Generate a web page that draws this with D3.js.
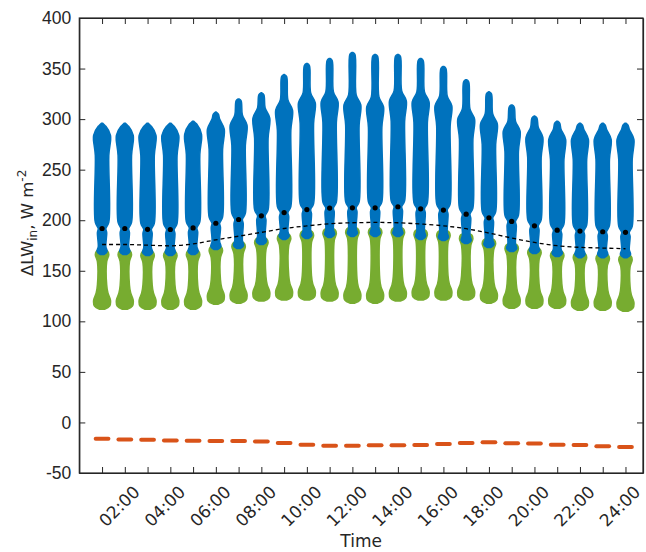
<!DOCTYPE html>
<html>
<head>
<meta charset="utf-8">
<script src="https://cdn.jsdelivr.net/npm/d3@7"></script>
<style>
  body { margin: 0; background: #fff; }
  svg { font-family: "DejaVu Sans", sans-serif; }
</style>
</head>
<body>
<div id="chart"></div>
<script>
// hourly values (hour 1 .. 24)
const hours = d3.range(1, 25);
const tickHours = d3.range(2, 25, 2);
const yTicks = d3.range(-50, 401, 50);

const blueMin   = [166, 166, 165, 165, 166, 171, 172, 176, 181, 182, 183, 184, 184, 184, 181, 180, 177, 173, 169, 167, 164, 163, 163, 163];
const blueMax   = [296, 296, 296, 296, 298, 307, 320, 326, 344, 355, 360, 366, 364, 364, 360, 352, 339, 327, 314, 303, 298, 296, 296, 296];
const blueBulge = [284, 284, 284, 284, 285, 290, 294, 301, 309, 316, 317, 314, 312, 318, 317, 313, 300, 295, 288, 282, 280, 280, 280, 280];
const greenMin  = [112, 112, 112, 112, 112, 117, 118, 120, 121, 121, 120, 118, 118, 120, 121, 121, 121, 118, 113, 113, 113, 111, 111, 110];
const greenMax  = [171, 171, 170, 170, 171, 175, 179, 183, 187, 190, 192, 193, 193, 193, 191, 190, 187, 182, 177, 173, 170, 168, 167, 166];
const meanVals  = [191.8, 191.8, 191, 190.8, 192.4, 197, 200.7, 204.3, 207.6, 210.5, 212, 212.3, 212.3, 213.3, 211.3, 210, 206, 202.4, 198.8, 194.5, 190.2, 189.3, 188.6, 188];
const fitVals   = [176, 176, 175.3, 174.7, 176.6, 180.6, 184.2, 188, 191.8, 194.4, 196.5, 197.5, 197.8, 197.5, 196.2, 194.5, 191.6, 187.3, 182.4, 178, 174.8, 173.2, 172.5, 171.8];
const diffVals  = [-16.2, -16.9, -17.2, -17.9, -18.2, -18.4, -18.4, -18.9, -20.3, -22, -23, -23, -22.6, -22.6, -22.3, -21.3, -20.3, -19.6, -20.6, -20.9, -22, -22.3, -23.6, -24.3];

const W = 646, H = 552;
const mLeft = 79.3, mRight = 643, mTop = 18, mBottom = 473;
const axisColor = '#262626';

const svg = d3.select('#chart').append('svg')
    .attr('width', W)
    .attr('height', H);

const x = d3.scaleLinear().domain([0, 24.77]).range([mLeft, mRight]);
const y = d3.scaleLinear().domain([-50, 400]).range([mBottom, mTop]);
// relative spread of the point cloud -> half width in hours
const spread = d3.scaleLinear().domain([0, 1]).range([0, 0.37]);

function blueProfile(i) {
    const lo = blueMin[i], hi = blueMax[i], b = blueBulge[i], m = meanVals[i];
    const s = Math.min(b + 10, hi - 3);
    return [
        [lo, 0.2], [lo + 3, 0.6], [lo + 8, 0.45], [m - 4, 0.55], [m, 0.45], [m + 6, 0.8],
        [b - 20, 0.8], [b, 1.0], [s, 0.45], [hi - 2, 0.3], [hi, 0.05]
    ];
}

function greenProfile(i) {
    const lo = greenMin[i], hi = greenMax[i];
    return [
        [lo, 0.3], [lo + 3, 0.9], [lo + 9, 1.0], [lo + 16, 0.7], [lo + 24, 0.55],
        [hi - 12, 0.55], [hi - 5, 0.8], [hi - 1.5, 0.65], [hi, 0.25]
    ];
}

function cloudArea(h) {
    return d3.area()
        .y(d => y(d[0]))
        .x0(d => x(h - spread(d[1])))
        .x1(d => x(h + spread(d[1])))
        .curve(d3.curveCatmullRom);
}

const plot = svg.append('g');

// green clouds underneath
plot.selectAll('path.green')
    .data(hours)
    .enter()
    .append('path')
    .attr('class', 'green')
    .attr('d', (h, i) => cloudArea(h)(greenProfile(i)))
    .attr('fill', '#77AC30')
    .attr('stroke', '#77AC30')
    .attr('stroke-width', 1.5)
    .attr('stroke-linejoin', 'round');

// blue clouds on top
plot.selectAll('path.blue')
    .data(hours)
    .enter()
    .append('path')
    .attr('class', 'blue')
    .attr('d', (h, i) => cloudArea(h)(blueProfile(i)))
    .attr('fill', '#0072BD')
    .attr('stroke', '#0072BD')
    .attr('stroke-width', 1.5)
    .attr('stroke-linejoin', 'round');

// dashed black curve
const fitLine = d3.line()
    .x((d, i) => x(hours[i]))
    .y(d => y(d))
    .curve(d3.curveMonotoneX);

plot.append('path')
    .attr('d', fitLine(fitVals))
    .attr('fill', 'none')
    .attr('stroke', '#000')
    .attr('stroke-width', 1.3)
    .attr('stroke-dasharray', '4,3');

// mean dots
plot.selectAll('circle.mean')
    .data(meanVals)
    .enter()
    .append('circle')
    .attr('class', 'mean')
    .attr('cx', (d, i) => x(hours[i]))
    .attr('cy', d => y(d))
    .attr('r', 2.6)
    .attr('fill', '#000');

// orange dashes, one per hour
plot.selectAll('line.diff')
    .data(diffVals)
    .enter()
    .append('line')
    .attr('class', 'diff')
    .attr('x1', (d, i) => x(hours[i] - 0.28))
    .attr('x2', (d, i) => x(hours[i] + 0.28))
    .attr('y1', d => y(d))
    .attr('y2', d => y(d))
    .attr('stroke', '#D95319')
    .attr('stroke-width', 4)
    .attr('stroke-linecap', 'round');

// axes (ticks point inward, box all round)
const yAxis = d3.axisLeft(y).tickValues(yTicks).tickFormat(d => String(d))
    .tickSizeInner(-6).tickSizeOuter(0).tickPadding(8);
const gy = svg.append('g').attr('transform', `translate(${mLeft},0)`).call(yAxis);
gy.selectAll('text').attr('font-size', 17.5).attr('fill', axisColor);

const gyr = svg.append('g').attr('transform', `translate(${mRight},0)`)
    .call(d3.axisRight(y).tickValues(yTicks).tickFormat('').tickSizeInner(-6).tickSizeOuter(0));

const gxb = svg.append('g').attr('transform', `translate(0,${mBottom})`)
    .call(d3.axisBottom(x).tickValues(hours).tickFormat('').tickSizeInner(-6).tickSizeOuter(0));
const gxt = svg.append('g').attr('transform', `translate(0,${mTop})`)
    .call(d3.axisTop(x).tickValues(hours).tickFormat('').tickSizeInner(-6).tickSizeOuter(0));

[gy, gyr, gxb, gxt].forEach(g => {
    g.select('.domain').attr('stroke', axisColor).attr('stroke-width', 1.2);
    g.selectAll('.tick line').attr('stroke', axisColor).attr('stroke-width', 1);
});
// box lines meeting at the corners
svg.append('rect')
    .attr('x', mLeft).attr('y', mTop)
    .attr('width', mRight - mLeft).attr('height', mBottom - mTop)
    .attr('fill', 'none')
    .attr('stroke', axisColor)
    .attr('stroke-width', 1.2);

// rotated time labels
svg.append('g').selectAll('text')
    .data(tickHours)
    .enter()
    .append('text')
    .attr('transform', h => `translate(${x(h) + 7},${mBottom + 11}) rotate(-45)`)
    .attr('text-anchor', 'end')
    .attr('dy', '0.75em')
    .attr('font-size', 17)
    .attr('fill', axisColor)
    .text(h => String(h).padStart(2, '0') + ':00');

svg.append('text')
    .attr('x', (mLeft + mRight) / 2)
    .attr('y', 547)
    .attr('text-anchor', 'middle')
    .attr('font-size', 17)
    .attr('fill', axisColor)
    .text('Time');

const yl = svg.append('text')
    .attr('transform', 'translate(33,276) rotate(-90)')
    .attr('font-size', 16.5)
    .attr('fill', axisColor);
yl.append('tspan').text('ΔLW');
yl.append('tspan').attr('font-size', 12).attr('dy', 4).text('in');
yl.append('tspan').attr('dy', -4).text(', W m');
yl.append('tspan').attr('font-size', 12).attr('dy', -7).text('-2');
</script>
</body>
</html>
